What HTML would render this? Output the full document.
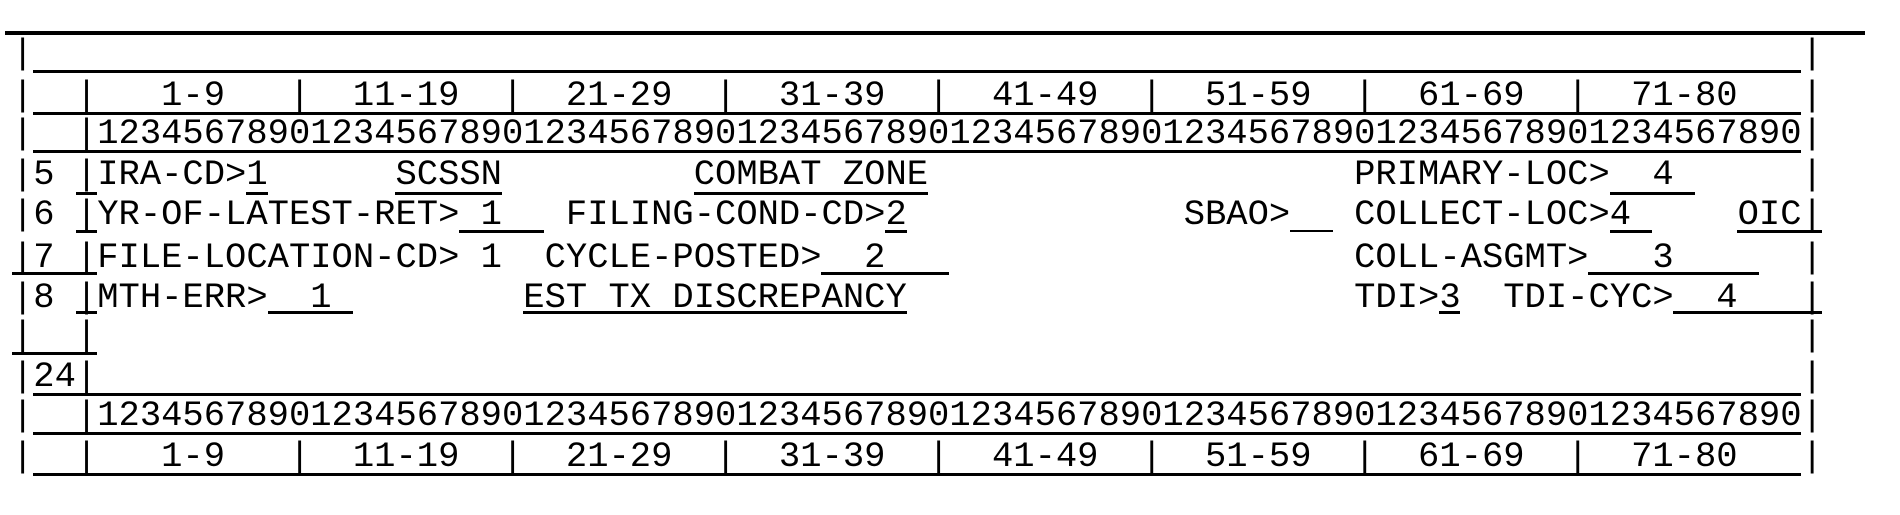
<!DOCTYPE html>
<html><head><meta charset="utf-8"><style>
html,body{margin:0;padding:0;background:#fff;}
body{width:1900px;height:515px;position:relative;overflow:hidden;}
.r{position:absolute;left:12px;font-family:"Liberation Mono",monospace;font-size:35.5px;line-height:40px;white-space:pre;color:#000;}
.u{position:absolute;height:3px;background:#000;}
</style></head><body>
<div class="u" style="left:5px;top:31px;width:1860px;height:4px"></div>

<div class="r" style="top:34px">|                                                                                   |</div>
<div class="r" style="top:76px">|  |   1-9   |  11-19  |  21-29  |  31-39  |  41-49  |  51-59  |  61-69  |  71-80   |</div>
<div class="r" style="top:114px">|  |12345678901234567890123456789012345678901234567890123456789012345678901234567890|</div>
<div class="r" style="top:154.5px">|5 |IRA-CD>1      SCSSN         COMBAT ZONE                    PRIMARY-LOC>  4      |</div>
<div class="r" style="top:194.5px">|6 |YR-OF-LATEST-RET> 1   FILING-COND-CD>2             SBAO>   COLLECT-LOC>4     OIC|</div>
<div class="r" style="top:237.5px">|7 |FILE-LOCATION-CD> 1  CYCLE-POSTED>  2                      COLL-ASGMT>   3      |</div>
<div class="r" style="top:277.5px">|8 |MTH-ERR>  1         EST TX DISCREPANCY                     TDI>3  TDI-CYC>  4   |</div>
<div class="r" style="top:316px">|  |                                                                                |</div>
<div class="r" style="top:357px">|24|                                                                                |</div>
<div class="r" style="top:396px">|  |12345678901234567890123456789012345678901234567890123456789012345678901234567890|</div>
<div class="r" style="top:437px">|  |   1-9   |  11-19  |  21-29  |  31-39  |  41-49  |  51-59  |  61-69  |  71-80   |</div>

<div class="u" style="left:33.3px;top:70px;width:1767.9px"></div>
<div class="u" style="left:33.3px;top:112px;width:1767.9px"></div>
<div class="u" style="left:33.3px;top:150px;width:1767.9px"></div>
<div class="u" style="left:33.3px;top:393px;width:1767.9px"></div>
<div class="u" style="left:33.3px;top:432px;width:1767.9px"></div>
<div class="u" style="left:33.3px;top:473px;width:1767.9px"></div>

<div class="u" style="left:75.9px;top:192px;width:21.3px"></div>
<div class="u" style="left:246.3px;top:192px;width:21.3px"></div>
<div class="u" style="left:395.4px;top:192px;width:106.5px"></div>
<div class="u" style="left:693.6px;top:192px;width:234.3px"></div>
<div class="u" style="left:1609.5px;top:192px;width:85.2px"></div>

<div class="u" style="left:75.9px;top:230px;width:21.3px"></div>
<div class="u" style="left:459.3px;top:230px;width:85.2px"></div>
<div class="u" style="left:885.3px;top:230px;width:21.3px"></div>
<div class="u" style="left:1290px;top:230px;width:42.6px;height:2px"></div>
<div class="u" style="left:1609.5px;top:230px;width:42.6px"></div>
<div class="u" style="left:1737.3px;top:230px;width:85.2px"></div>

<div class="u" style="left:12px;top:272px;width:85.2px"></div>
<div class="u" style="left:821.4px;top:272px;width:127.8px"></div>
<div class="u" style="left:1588.2px;top:272px;width:170.4px"></div>

<div class="u" style="left:75.9px;top:311px;width:21.3px"></div>
<div class="u" style="left:267.6px;top:311px;width:85.2px"></div>
<div class="u" style="left:523.2px;top:311px;width:383.4px"></div>
<div class="u" style="left:1439.1px;top:311px;width:21.3px"></div>
<div class="u" style="left:1673.4px;top:311px;width:149.1px"></div>

<div class="u" style="left:12px;top:352px;width:85.2px"></div>
</body></html>
